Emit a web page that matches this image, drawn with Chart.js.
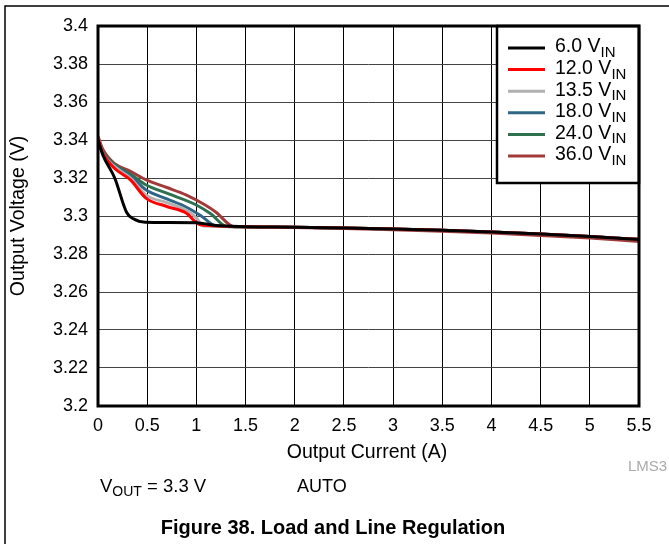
<!doctype html>
<html lang="en">
  <head>
    <meta charset="utf-8">
    <title>Load and Line Regulation</title>
    <script src="https://cdn.jsdelivr.net/npm/chart.js@4.4.0/dist/chart.umd.min.js"></script>
    <style>
      body { margin: 0; background: #fff; }
      #wrap { width: 669px; height: 544px; }
    </style>
  </head>
  <body>
    <div id="wrap"><canvas id="myChart" width="669" height="544"></canvas></div>

<script>
const FONT = '"Liberation Sans", Arial, sans-serif'

// Output current (A) and output voltage (V) per input voltage
const i6 = [0, 0.05, 0.17, 0.29, 0.36, 0.48, 0.7, 1.0, 1.2, 1.5, 2, 2.5, 3, 3.5, 4, 4.5, 5, 5.5]
const v6 = [3.340, 3.332, 3.320, 3.302, 3.2985, 3.2967, 3.2966, 3.2965, 3.2950, 3.2944, 3.2941, 3.2937, 3.2932, 3.2925, 3.2916, 3.2905, 3.2892, 3.2876]

const i12 = [0, 0.05, 0.17, 0.33, 0.49, 0.7, 0.9, 1.0, 1.05, 1.5, 2, 2.5, 3, 3.5, 4, 4.5, 5, 5.5]
const v12 = [3.341, 3.333, 3.325, 3.319, 3.3093, 3.305, 3.3014, 3.2965, 3.2952, 3.2944, 3.2941, 3.2937, 3.2932, 3.2925, 3.2916, 3.2905, 3.2892, 3.2877]

const i135 = [0, 0.05, 0.17, 0.33, 0.49, 0.7, 0.9, 1.0, 1.07, 1.5, 2, 2.5, 3, 3.5, 4, 4.5, 5, 5.5]
const v135 = [3.341, 3.333, 3.326, 3.320, 3.311, 3.307, 3.303, 3.299, 3.2948, 3.2944, 3.2941, 3.2937, 3.2932, 3.2925, 3.2916, 3.2905, 3.2892, 3.2877]

const i18 = [0, 0.05, 0.17, 0.33, 0.49, 0.7, 0.9, 1.05, 1.2, 1.5, 2, 2.5, 3, 3.5, 4, 4.5, 5, 5.5]
const v18 = [3.341, 3.333, 3.3265, 3.321, 3.3137, 3.309, 3.3046, 3.300, 3.2947, 3.2944, 3.2941, 3.2937, 3.2932, 3.2925, 3.2916, 3.2905, 3.2892, 3.2877]

const i24 = [0, 0.05, 0.17, 0.33, 0.49, 0.7, 1.0, 1.15, 1.31, 1.5, 2, 2.5, 3, 3.5, 4, 4.5, 5, 5.5]
const v24 = [3.341, 3.334, 3.327, 3.322, 3.3163, 3.312, 3.3058, 3.301, 3.2945, 3.2944, 3.2941, 3.2937, 3.2932, 3.2925, 3.2916, 3.2905, 3.2892, 3.2877]

const i36 = [0, 0.05, 0.17, 0.33, 0.49, 0.7, 0.9, 1.09, 1.2, 1.38, 1.5, 2, 2.5, 3, 3.5, 4, 4.5, 5, 5.5]
const v36 = [3.342, 3.335, 3.3275, 3.3235, 3.319, 3.315, 3.311, 3.3058, 3.302, 3.2944, 3.2942, 3.2939, 3.2934, 3.2928, 3.2920, 3.2910, 3.2898, 3.2884, 3.2866]

const seriesNames = ['6.0', '12.0', '13.5', '18.0', '24.0', '36.0']
const seriesColors = ['#000000', '#ff0000', '#b0b0b0', '#2f6585', '#2e7050', '#a33a3a']
const seriesI = [i6, i12, i135, i18, i24, i36]
const seriesV = [v6, v12, v135, v18, v24, v36]

const xTicks = [0, 0.5, 1, 1.5, 2, 2.5, 3, 3.5, 4, 4.5, 5, 5.5]
const yTicks = [3.2, 3.22, 3.24, 3.26, 3.28, 3.3, 3.32, 3.34, 3.36, 3.38, 3.4]

const LineThickness = 3

const datasets = seriesNames.map((name, k) => ({
    label: name + ' VIN',
    borderColor: seriesColors[k],
    backgroundColor: seriesColors[k],
    borderWidth: LineThickness,
    pointRadius: 0,
    showLine: true,
    cubicInterpolationMode: 'monotone',
    data: seriesI[k].map((x, j) => ({x: x, y: seriesV[k][j]}))
}))

// text with a subscript part, returns end x
function subText(ctx, txt, sub, x, y, size, subSize) {
    ctx.font = size + 'px ' + FONT
    ctx.fillText(txt, x, y)
    const w = ctx.measureText(txt).width
    ctx.font = subSize + 'px ' + FONT
    ctx.fillText(sub, x + w, y + size * 0.3)
    return x + w + ctx.measureText(sub).width
}

// frame, legend box and the extra labels
const extras = {
    id: 'extras',
    afterDatasetsDraw(chart) {
        const ctx = chart.ctx
        const a = chart.chartArea
        ctx.save()

        // legend box
        const lx = 497, ly = a.top, lw = a.right - lx, lh = 157
        ctx.fillStyle = '#fff'
        ctx.fillRect(lx, ly, lw, lh)
        ctx.strokeStyle = '#000'
        ctx.lineWidth = 2.5
        ctx.strokeRect(lx, ly, lw, lh)
        ctx.textBaseline = 'middle'
        ctx.textAlign = 'left'
        seriesNames.forEach((name, k) => {
            const y = 48 + k * 21.6
            ctx.strokeStyle = seriesColors[k]
            ctx.lineWidth = 3
            ctx.beginPath()
            ctx.moveTo(508, y)
            ctx.lineTo(545, y)
            ctx.stroke()
            ctx.fillStyle = '#000'
            subText(ctx, name + ' V', 'IN', 555, y - 1, 19.5, 15)
        })

        // plot border
        ctx.strokeStyle = '#000'
        ctx.lineWidth = 3
        ctx.strokeRect(a.left, a.top, a.right - a.left, a.bottom - a.top)

        // outer frame
        ctx.lineWidth = 1.5
        ctx.beginPath()
        ctx.moveTo(5, 544)
        ctx.lineTo(5, 6)
        ctx.lineTo(669, 6)
        ctx.stroke()

        ctx.fillStyle = '#000'
        ctx.textBaseline = 'middle'

        // axis titles
        ctx.font = '19.5px ' + FONT
        ctx.textAlign = 'center'
        ctx.fillText('Output Current (A)', 367, 453)
        ctx.save()
        ctx.translate(19, 216)
        ctx.rotate(-Math.PI / 2)
        ctx.fillText('Output Voltage (V)', 0, 0)
        ctx.restore()

        // notes
        ctx.textAlign = 'left'
        const e = subText(ctx, 'V', 'OUT', 100, 487, 18.5, 14)
        ctx.font = '18.5px ' + FONT
        ctx.fillText(' = 3.3 V', e, 487)
        ctx.font = '18px ' + FONT
        ctx.fillText('AUTO', 297, 487)

        ctx.fillStyle = '#aaaaaa'
        ctx.font = '15px ' + FONT
        ctx.fillText('LMS3', 628, 467)

        ctx.fillStyle = '#000'
        ctx.font = 'bold 20px ' + FONT
        ctx.textAlign = 'center'
        ctx.fillText('Figure 38. Load and Line Regulation', 333, 528)

        ctx.restore()
    }
}

const config = {
    type: 'scatter',
    data: {datasets: datasets},
    options: {
        responsive: false,
        animation: false,
        layout: {
            padding: {left: 0, top: 26, right: 30, bottom: 0}
        },
        scales: {
            x: {
                type: 'linear',
                min: 0,
                max: 5.5,
                afterFit: s => { s.height = 138 },
                afterBuildTicks: s => { s.ticks = xTicks.map(v => ({value: v})) },
                grid: {color: '#000', lineWidth: 1, drawTicks: false},
                border: {display: false},
                ticks: {
                    padding: 9,
                    color: '#000',
                    font: {family: FONT, size: 18},
                    callback: v => String(parseFloat(v.toFixed(2)))
                }
            },
            y: {
                min: 3.2,
                max: 3.4,
                afterFit: s => { s.width = 98 },
                afterBuildTicks: s => { s.ticks = yTicks.map(v => ({value: v})) },
                grid: {color: '#444', lineWidth: 1, drawTicks: false},
                border: {display: false},
                ticks: {
                    padding: 10,
                    color: '#000',
                    font: {family: FONT, size: 18},
                    callback: v => String(parseFloat(v.toFixed(2)))
                }
            }
        },
        plugins: {
            legend: {display: false},
            tooltip: {enabled: false}
        }
    },
    plugins: [extras]
}

const myChart = new Chart(document.getElementById('myChart'), config)
</script>
  </body>
</html>
